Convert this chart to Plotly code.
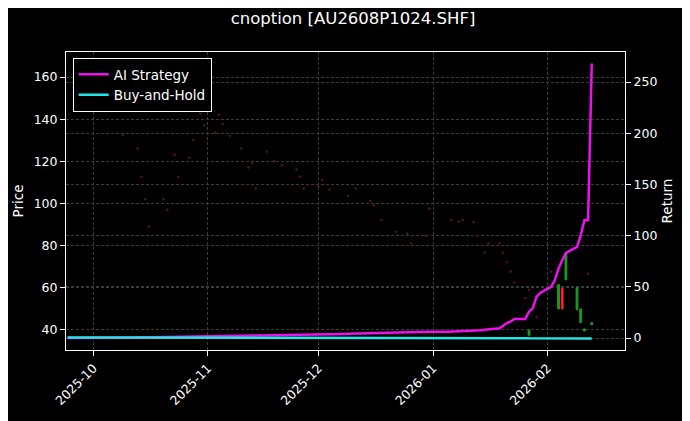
import pandas as pd
import plotly.graph_objects as go

# Trading days for the return lines
_days = pd.bdate_range("2025-09-24", "2026-02-13")
_hol = pd.to_datetime(["2025-10-01","2025-10-02","2025-10-03","2025-10-06","2025-10-07","2025-10-08","2026-01-01","2026-01-02"])
line_dates = [d for d in _days if d not in _hol]

strategy = [0,0,0.1,0.1,0.2,
 0.3,0.4,0.5,0.5,0.6,0.7,0.8,0.9,1.0,1.0,1.1,1.2,1.3,1.4,1.5,1.6,1.7,
 1.8,1.9,2.0,2.0,2.1,2.2,2.3,2.3,2.4,2.5,2.6,2.7,2.8,2.9,3.0,3.0,3.1,3.2,3.3,3.4,
 3.5,3.6,3.7,3.8,3.9,4.0,4.1,4.2,4.3,4.5,4.6,4.8,5.0,5.1,5.2,5.4,5.5,5.6,5.7,5.8,5.9,6.0,6.0,
 6.1,6.2,6.3,6.5,6.7,7.0,7.3,7.6,8.0,8.5,9.5,12.0,14.6,16.0,18.5,18.6,25.7,29.0,40.0,44.0,
 50.0,56.6,68.0,76.0,83.0,89.0,100.0,115.0,115.0,268.0]
buyhold = [0.5,0.5,0.5,0.5,0.5,
 0.5,0.5,0.5,0.4,0.4,0.4,0.4,0.4,0.4,0.4,0.4,0.4,0.3,0.3,0.3,0.3,0.3,
 0.3,0.3,0.3,0.3,0.3,0.2,0.2,0.2,0.2,0.2,0.2,0.2,0.2,0.2,0.1,0.1,0.1,0.1,0.1,0.1,
 0.1,0.1,0.1,0.1,0.0,0.0,0.0,0.0,0.0,0.0,0.0,0.0,0.0,0.0,-0.1,-0.1,-0.1,-0.1,-0.1,-0.1,-0.1,-0.1,-0.1,
 -0.1,-0.1,-0.1,-0.1,-0.2,-0.2,-0.2,-0.2,-0.2,-0.2,-0.2,-0.2,-0.2,-0.2,-0.2,-0.2,-0.3,-0.3,-0.3,-0.3,
 -0.3,-0.3,-0.3,-0.3,-0.3,-0.3,-0.4,-0.4,-0.4,-0.4]

# Dim candles (near-flat)
dim_dates = ["2025-10-09","2025-10-13","2025-10-14","2025-10-15","2025-10-16","2025-10-20","2025-10-21",
 "2025-10-23","2025-10-24","2025-10-27","2025-10-28","2025-10-30","2025-10-31","2025-11-03","2025-11-04",
 "2025-11-05","2025-11-07","2025-11-10","2025-11-12","2025-11-13","2025-11-14","2025-11-17","2025-11-19",
 "2025-11-21","2025-11-25","2025-11-26","2025-11-27","2025-12-01","2025-12-02","2025-12-04","2025-12-09",
 "2025-12-11","2025-12-15","2025-12-16","2025-12-18","2025-12-22","2025-12-25","2025-12-26","2025-12-30",
 "2025-12-31","2026-01-06","2026-01-08","2026-01-09","2026-01-12","2026-01-13","2026-01-15","2026-01-16",
 "2026-01-19","2026-01-20","2026-01-21","2026-01-22","2026-01-23","2026-01-26","2026-01-27","2026-01-29",
 "2026-02-02","2026-02-12"]
dim_close = [132.5,126,112.6,102,89,102,97,123,112.6,121.6,130,142.5,137,133.5,142,137.7,132,126,117,119,107,
 124.5,120,118,116,112.6,107,108,111,106.5,103.6,107,101,99,92,86.5,85.6,81,84.6,97.5,92,91.3,92,91,84.6,
 76.6,81,81,76.6,72,67.6,62.4,55,59,46,67.6,66.6]

# Bright candles (late period)
br_dates = ["2026-01-27","2026-02-04","2026-02-05","2026-02-06","2026-02-09","2026-02-10","2026-02-11","2026-02-13"]
br_open = [37.5,50,59.7,63.8,49.6,43.5,39.5,42.5]
br_close = [40,61.5,50,76.6,60,50,40.5,43.5]

fig = go.Figure()
fig.add_trace(go.Candlestick(x=dim_dates, open=[c+0.4 for c in dim_close], close=dim_close,
    high=[c+0.5 for c in dim_close], low=[c-0.5 for c in dim_close],
    increasing=dict(line=dict(color="#5a1414", width=1), fillcolor="#5a1414"),
    decreasing=dict(line=dict(color="#5a1414", width=1), fillcolor="#5a1414"),
    whiskerwidth=0, showlegend=False, hoverinfo="skip"))
fig.add_trace(go.Candlestick(x=br_dates, open=br_open, close=br_close,
    high=[max(o, c) for o, c in zip(br_open, br_close)], low=[min(o, c) for o, c in zip(br_open, br_close)],
    increasing=dict(line=dict(color="#1f9a1f", width=1), fillcolor="#1f9a1f"),
    decreasing=dict(line=dict(color="#ff2020", width=1), fillcolor="#ff2020"),
    whiskerwidth=0, showlegend=False, hoverinfo="skip"))
fig.add_trace(go.Scatter(x=line_dates, y=strategy, name="AI Strategy", yaxis="y2",
    mode="lines", line=dict(color="#ee11ee", width=2.5)))
fig.add_trace(go.Scatter(x=line_dates, y=buyhold, name="Buy-and-Hold", yaxis="y2",
    mode="lines", line=dict(color="#22e5e5", width=2.5)))

grid = dict(showgrid=True, gridcolor="#3a3a3a", griddash="3px,2px", gridwidth=0.6, automargin=False,
            tickfont=dict(size=12.5))
fig.update_layout(
    width=690, height=421, paper_bgcolor="black", plot_bgcolor="black",
    font=dict(family="DejaVu Sans", color="white", size=12.5),
    title=dict(text="cnoption [AU2608P1024.SHF]", x=0.5, xanchor="center", y=0.976, yanchor="middle",
               automargin=False, font=dict(size=16.5)),
    margin=dict(l=58, r=73, t=44, b=79),
    xaxis=dict(type="date", range=["2025-09-23 14:00", "2026-02-22"], tickformat="%Y-%m", tickangle=-45,
               dtick="M1", tick0="2025-10-01", rangeslider=dict(visible=False),
               showline=True, linecolor="white", mirror=True, ticks="outside", tickcolor="white", **grid),
    yaxis=dict(title=dict(text="Price", standoff=6, font=dict(size=13.5)), range=[30.5, 171.9],
               tickvals=[40,60,80,100,120,140,160],
               showline=True, linecolor="white", ticks="outside", tickcolor="white", zeroline=False, **grid),
    yaxis2=dict(title=dict(text="Return", standoff=6, font=dict(size=13.5)), overlaying="y", side="right",
                range=[-11.7, 279.3], tickvals=[0,50,100,150,200,250], showline=True, linecolor="white",
                ticks="outside", tickcolor="white", zeroline=False, **grid),
    legend=dict(x=0.012, y=0.98, xanchor="left", yanchor="top", bgcolor="black",
                bordercolor="white", borderwidth=1, font=dict(size=13.5)),
)
fig.write_html("out.html")
